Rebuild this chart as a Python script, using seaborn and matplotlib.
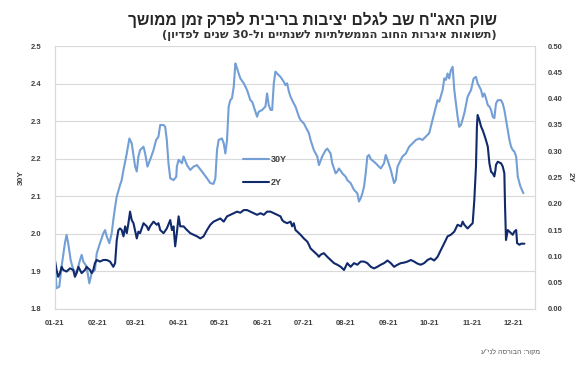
import matplotlib
matplotlib.use("Agg")
import matplotlib.pyplot as plt
import matplotlib.dates as mdates
import seaborn as sns
import pandas as pd

# ---------------- data ----------------
start_date = "2021-01-01"

# 30Y yield (left axis) - day offsets from Jan 1, 2021 and values
day_30y = [0, 1.2, 3.2, 4.9, 7.3, 8.5, 9.7, 11.5, 13.4, 15.8,
           18.3, 19.5, 20.7, 23.1, 25.1, 26.8, 29.2, 30.5, 32.9, 35.3,
           36.6, 37.8, 39.7, 41.4, 42.6, 43.9, 45.1, 47.5, 48.7, 50.0,
           52.4, 54.3, 56.0, 58.5, 59.7, 60.9, 62.1, 64.6, 65.8, 67.5,
           69.4, 71.9, 73.8, 75.5, 76.8, 79.2, 80.4, 81.6, 82.8, 84.1,
           86.5, 88.5, 88.9, 90.2, 92.6, 93.8, 96.3, 98.7, 101.1, 103.6,
           107.2, 110.9, 113.3, 115.7, 117.0, 118.2, 119.4, 121.8, 123.1, 124.3,
           125.5, 126.7, 127.9, 129.1, 130.4, 131.6, 132.8, 134.0, 135.2, 137.7,
           140.1, 142.5, 143.8, 145.0, 147.4, 148.6, 151.1, 153.5, 154.7, 155.9,
           157.2, 158.4, 159.6, 160.8, 162.0, 164.5, 166.9, 168.1, 169.3, 170.6,
           171.8, 174.2, 175.4, 177.9, 179.1, 181.5, 184.0, 185.2, 186.4, 188.8,
           191.3, 192.5, 194.9, 197.4, 198.6, 201.0, 202.2, 204.7, 205.9, 207.1,
           209.6, 212.0, 213.2, 215.6, 218.1, 220.5, 221.7, 223.0, 224.2, 225.4,
           226.6, 227.8, 229.0, 230.3, 233.9, 237.6, 240.0, 241.2, 242.5, 244.9,
           247.3, 248.5, 249.8, 251.0, 253.4, 255.9, 258.3, 260.7, 263.2, 265.6,
           268.0, 270.5, 272.9, 274.1, 275.3, 277.8, 279.0, 280.2, 282.7, 283.9,
           285.1, 286.3, 287.5, 288.7, 290.0, 291.2, 293.6, 294.8, 296.1, 298.5,
           300.9, 302.1, 303.4, 305.3, 307.0, 308.2, 309.5, 310.7, 311.9, 313.1,
           314.3, 315.6, 316.8, 318.0, 319.2, 320.4, 321.6, 322.9, 325.3, 326.5,
           327.7, 330.2, 331.4, 332.6, 333.8, 335.0, 336.3, 337.5, 339.4, 341.6]
yield_30y = [1.930, 1.855, 1.859, 1.913, 1.975, 1.997, 1.975, 1.930, 1.904, 1.895,
             1.930, 1.944, 1.926, 1.913, 1.868, 1.895, 1.904, 1.948, 1.975, 2.001,
             2.010, 1.993, 1.975, 2.001, 2.037, 2.072, 2.099, 2.130, 2.143, 2.170,
             2.214, 2.254, 2.241, 2.179, 2.166, 2.206, 2.223, 2.232, 2.214, 2.179,
             2.197, 2.223, 2.250, 2.259, 2.290, 2.290, 2.285, 2.250, 2.188, 2.148,
             2.143, 2.152, 2.179, 2.197, 2.188, 2.206, 2.183, 2.170, 2.179, 2.183,
             2.166, 2.148, 2.135, 2.133, 2.148, 2.223, 2.250, 2.254, 2.241, 2.214,
             2.250, 2.339, 2.356, 2.361, 2.392, 2.454, 2.441, 2.427, 2.414, 2.401,
             2.383, 2.356, 2.352, 2.339, 2.312, 2.325, 2.330, 2.339, 2.374, 2.343,
             2.330, 2.330, 2.401, 2.432, 2.427, 2.418, 2.405, 2.396, 2.401, 2.379,
             2.365, 2.347, 2.339, 2.312, 2.303, 2.294, 2.276, 2.268, 2.250, 2.223,
             2.206, 2.183, 2.206, 2.223, 2.227, 2.214, 2.188, 2.161, 2.166, 2.174,
             2.161, 2.152, 2.143, 2.135, 2.117, 2.108, 2.086, 2.095, 2.108, 2.126,
             2.161, 2.206, 2.210, 2.199, 2.188, 2.174, 2.188, 2.210, 2.197, 2.170,
             2.135, 2.143, 2.179, 2.188, 2.206, 2.214, 2.232, 2.241, 2.250, 2.254,
             2.250, 2.259, 2.268, 2.285, 2.303, 2.339, 2.356, 2.352, 2.383, 2.414,
             2.410, 2.427, 2.414, 2.436, 2.445, 2.383, 2.312, 2.285, 2.290, 2.321,
             2.365, 2.374, 2.383, 2.414, 2.418, 2.401, 2.392, 2.383, 2.365, 2.374,
             2.361, 2.343, 2.339, 2.330, 2.312, 2.308, 2.347, 2.356, 2.356, 2.347,
             2.330, 2.276, 2.250, 2.232, 2.223, 2.219, 2.206, 2.152, 2.126, 2.108]

# 2Y yield (right axis)
day_2y = [0, 1.2, 2.4, 3.7, 4.9, 6.1, 8.5, 11.0, 13.4, 14.6,
          15.8, 17.1, 18.3, 19.5, 21.9, 23.1, 25.6, 26.8, 28.0, 29.2,
          30.5, 32.9, 35.3, 37.8, 40.2, 42.6, 43.9, 45.1, 46.3, 47.5,
          48.7, 50.0, 51.2, 52.4, 53.6, 54.8, 56.0, 57.3, 59.7, 60.9,
          62.1, 64.6, 67.0, 68.2, 69.4, 71.9, 74.3, 75.5, 76.8, 79.2,
          81.6, 84.1, 85.3, 86.5, 87.7, 88.9, 90.2, 91.4, 93.8, 96.3,
          98.7, 101.1, 103.6, 106.0, 108.4, 110.9, 113.3, 115.7, 118.2, 120.6,
          123.1, 125.5, 127.9, 130.4, 132.8, 135.2, 137.7, 140.1, 142.5, 145.0,
          147.4, 149.9, 152.3, 154.7, 157.2, 159.6, 162.0, 164.5, 165.7, 166.9,
          169.3, 171.8, 173.0, 174.2, 175.4, 176.7, 179.1, 181.5, 184.0, 185.2,
          186.4, 188.8, 191.3, 192.5, 193.7, 196.1, 198.6, 201.0, 203.5, 205.9,
          208.4, 210.8, 213.2, 215.6, 218.1, 220.5, 223.0, 225.4, 227.8, 230.3,
          232.7, 235.1, 237.6, 240.0, 242.5, 244.9, 247.3, 249.8, 252.2, 254.6,
          257.1, 259.5, 261.9, 264.4, 266.8, 269.2, 271.7, 274.1, 276.5, 279.0,
          281.4, 283.9, 286.3, 288.7, 291.2, 293.6, 296.1, 297.3, 298.5, 300.9,
          303.4, 304.6, 305.8, 307.0, 307.7, 308.2, 309.5, 310.7, 311.9, 313.1,
          314.3, 315.6, 316.8, 318.0, 319.2, 320.4, 321.2, 321.6, 322.9, 325.3,
          326.5, 327.7, 328.2, 328.9, 330.2, 331.4, 332.6, 333.8, 335.0, 336.3,
          337.0, 338.7, 339.9, 342.3]
yield_2y = [0.093, 0.074, 0.061, 0.068, 0.080, 0.074, 0.071, 0.077, 0.074, 0.061,
            0.068, 0.080, 0.074, 0.068, 0.074, 0.080, 0.074, 0.068, 0.074, 0.087,
            0.093, 0.090, 0.093, 0.093, 0.090, 0.080, 0.087, 0.131, 0.150, 0.153,
            0.150, 0.138, 0.157, 0.144, 0.163, 0.185, 0.169, 0.163, 0.134, 0.147,
            0.144, 0.163, 0.157, 0.150, 0.157, 0.166, 0.160, 0.163, 0.150, 0.144,
            0.153, 0.169, 0.150, 0.157, 0.119, 0.144, 0.176, 0.157, 0.157, 0.150,
            0.144, 0.141, 0.138, 0.134, 0.138, 0.150, 0.160, 0.166, 0.169, 0.172,
            0.166, 0.176, 0.179, 0.182, 0.185, 0.183, 0.188, 0.188, 0.185, 0.182,
            0.179, 0.182, 0.179, 0.185, 0.185, 0.182, 0.179, 0.176, 0.169, 0.166,
            0.163, 0.166, 0.157, 0.163, 0.150, 0.147, 0.141, 0.134, 0.128, 0.122,
            0.115, 0.109, 0.103, 0.099, 0.103, 0.106, 0.099, 0.093, 0.087, 0.084,
            0.080, 0.074, 0.087, 0.080, 0.087, 0.084, 0.090, 0.090, 0.087, 0.080,
            0.077, 0.080, 0.084, 0.087, 0.092, 0.087, 0.080, 0.084, 0.087, 0.088,
            0.090, 0.093, 0.090, 0.086, 0.084, 0.087, 0.093, 0.096, 0.092, 0.099,
            0.112, 0.125, 0.138, 0.141, 0.147, 0.160, 0.157, 0.166, 0.160, 0.153,
            0.160, 0.163, 0.207, 0.271, 0.347, 0.369, 0.359, 0.347, 0.340, 0.331,
            0.321, 0.309, 0.277, 0.261, 0.258, 0.252, 0.264, 0.274, 0.280, 0.277,
            0.271, 0.258, 0.195, 0.131, 0.150, 0.147, 0.144, 0.141, 0.147, 0.150,
            0.125, 0.122, 0.124, 0.124]

series_labels = ["30Y", "2Y"]
left_ticks = [1.8, 1.9, 2.0, 2.1, 2.2, 2.3, 2.4, 2.5]
right_ticks = [0.00, 0.05, 0.10, 0.15, 0.20, 0.25, 0.30, 0.35, 0.40, 0.45, 0.50]

title_text = "שוק האג\"ח שב לגלם יציבות בריבית לפרק זמן ממושך"
subtitle_text = "(תשואות איגרות החוב הממשלתיות לשנתיים ול-30 שנים לפדיון)"
source_text = "מקור: הבורסה לני\"ע"


def visual(s):
    """Convert logical RTL Hebrew text to visual (left-to-right) order."""
    import re
    r = s[::-1]
    r = r.translate(str.maketrans("()", ")("))
    r = re.sub(r"\d+", lambda m: m.group(0)[::-1], r)
    return r


# ---------------- plotting ----------------
sns.set_theme(style="white")
plt.rcParams["font.family"] = ["Liberation Sans", "DejaVu Sans"]

base = pd.Timestamp(start_date)
df30 = pd.DataFrame({"date": base + pd.to_timedelta(day_30y, unit="D"), "value": yield_30y})
df2 = pd.DataFrame({"date": base + pd.to_timedelta(day_2y, unit="D"), "value": yield_2y})

light = "#739fd6"
dark = "#102a6c"
grid_c = "#d9d9d9"
text_c = "#404040"

fig = plt.figure(figsize=(5.84, 3.69), dpi=100)
ax = fig.add_axes([0.094, 0.163, 0.822, 0.712])
ax2 = ax.twinx()

sns.lineplot(data=df30, x="date", y="value", ax=ax, color=light, linewidth=1.5,
             estimator=None, sort=False, label=series_labels[0], legend=False)
sns.lineplot(data=df2, x="date", y="value", ax=ax2, color=dark, linewidth=1.5,
             estimator=None, sort=False, label=series_labels[1], legend=False)

ax.set_xlim(pd.Timestamp("2021-01-01"), pd.Timestamp("2021-12-17"))
ax.set_ylim(1.8, 2.5)
ax2.set_ylim(0.0, 0.5)
ax.set_yticks(left_ticks)
ax.set_yticklabels([f"{t:.1f}" for t in left_ticks])
ax2.set_yticks(right_ticks)
ax2.set_yticklabels([f"{t:.2f}" for t in right_ticks])

ax.xaxis.set_major_locator(mdates.MonthLocator())
ax.xaxis.set_major_formatter(mdates.DateFormatter("%m-%y"))

ax.grid(axis="y", color=grid_c, linewidth=0.8)
ax.grid(axis="x", visible=False)
ax2.grid(False)

for a in (ax, ax2):
    a.tick_params(length=0, labelsize=5.5, labelcolor=text_c)
    for s in a.spines.values():
        s.set_color(grid_c)
        s.set_linewidth(0.8)
    a.spines["top"].set_visible(False)
ax.tick_params(axis="y", pad=10)
ax2.tick_params(axis="y", pad=9)
ax.tick_params(axis="x", pad=8)
for lab in ax.get_xticklabels() + ax.get_yticklabels() + ax2.get_yticklabels():
    lab.set_fontweight("bold")

ax.set_xlabel("")
ax.set_ylabel(series_labels[0], fontsize=6, fontweight="bold", color=text_c, labelpad=4)
ax2.set_ylabel(series_labels[1], fontsize=6, fontweight="bold", color=text_c,
               rotation=270, labelpad=8)

h1, l1 = ax.get_legend_handles_labels()
h2, l2 = ax2.get_legend_handles_labels()
leg = ax2.legend(h1 + h2, l1 + l2, loc="upper left", bbox_to_anchor=(0.375, 0.615),
                 frameon=False, fontsize=6.5, handlelength=2.9, handletextpad=0.2,
                 labelspacing=1.5)
for t in leg.get_texts():
    t.set_fontweight("bold")
    t.set_color(text_c)

fig.text(0.851, 0.945, visual(title_text), ha="right", va="center",
         fontsize=11.2, fontweight="bold", color="#262626")
fig.text(0.851, 0.903, visual(subtitle_text), ha="right", va="center",
         fontsize=8.2, fontweight="bold", color="#333333",
         family=["DejaVu Sans", "Liberation Sans"])
fig.text(0.925, 0.045, visual(source_text), ha="right", va="center",
         fontsize=5, color="#555555")

fig.savefig("out.png", dpi=100)
